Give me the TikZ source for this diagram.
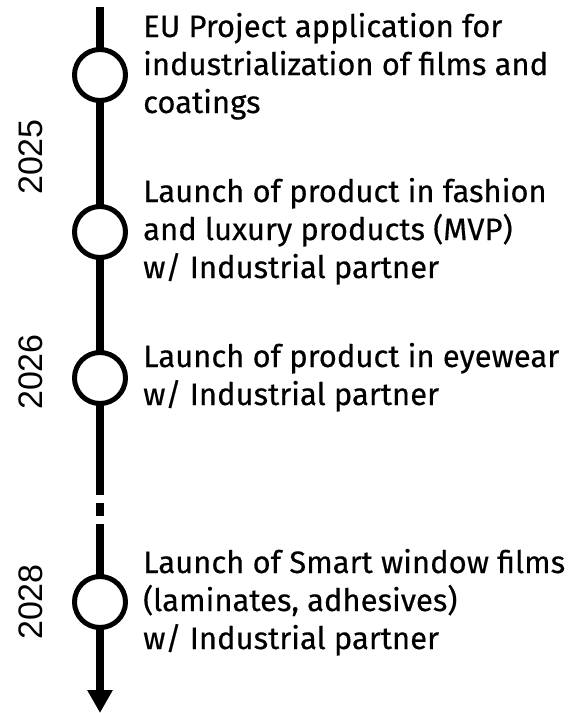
\documentclass[tikz,border=0pt]{standalone}
\usepackage{fontspec}
\setmainfont{Fira Sans}[FakeBold=0.4]
\newfontfamily\yearfont{Liberation Sans}
\usetikzlibrary{arrows.meta,backgrounds}
\tikzset{
  stop/.style={circle, draw, line width=5pt, fill=white, minimum size=51pt, inner sep=0pt},
  axis/.style={line width=8pt, line cap=butt},
  year/.style={rotate=90, anchor=base, inner sep=0pt, font=\yearfont\fontsize{34}{40}\selectfont},
  label/.style={anchor=base west, inner sep=0pt},
}
\newcommand{\blocktext}[1]{\parbox[t]{440pt}{\fontsize{31}{38}\selectfont\raggedright #1}}
\begin{document}
\begin{tikzpicture}[x=1pt,y=-1pt]
\useasboundingbox (0,0) rectangle (582,713);
\node[stop] (c1) at (100,75) {};
\node[stop] (c2) at (100,232) {};
\node[stop] (c3) at (100,378) {};
\node[stop] (c4) at (100,602) {};
\coordinate (top) at (100,7);
\coordinate (gapa) at (100,495);
\coordinate (dota) at (100,503);
\coordinate (dotb) at (100,516);
\coordinate (gapb) at (100,524);
\coordinate (tip) at (100,713);
\begin{scope}[on background layer]
\draw[axis] (top) -- (c1.center) -- (c2.center) -- (c3.center) -- (gapa);
\draw[axis] (dota) -- (dotb);
\draw[axis] (gapb) -- (c4.center);
\draw[axis, -{Triangle[length=23pt,width=24pt]}] (c4.center) -- (tip);
\end{scope}
\node[label] (t1) at (143,37) {\blocktext{EU Project application for\\industrialization of films and\\coatings}};
\node[label] (t2) at (143,202) {\blocktext{Launch of product in fashion\\and luxury products (MVP)\\w/ Industrial partner}};
\node[label] (t3) at (143,367) {\blocktext{Launch of product in eyewear\\w/ Industrial partner}};
\node[label] (t4) at (143,573) {\blocktext{Launch of Smart window films\\(laminates, adhesives)\\w/ Industrial partner}};
\node[year] (y1) at (42,157) {2025};
\node[year] (y2) at (42,372) {2026};
\node[year] (y3) at (42,602) {2028};
\end{tikzpicture}
\end{document}
